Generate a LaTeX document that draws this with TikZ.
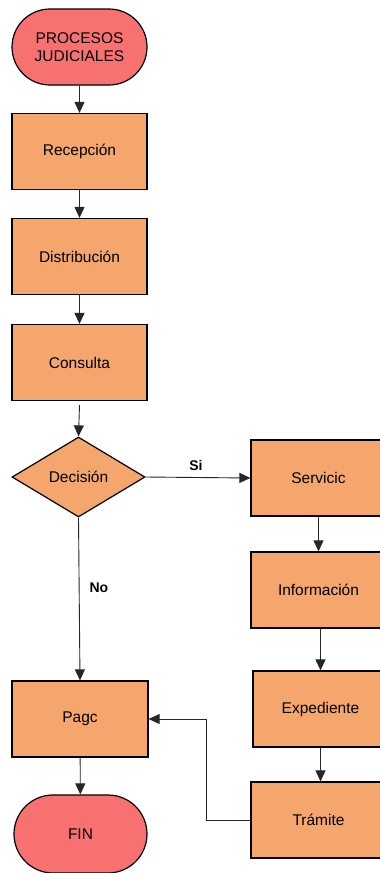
\documentclass[tikz,border=0pt]{standalone}
\usepackage{fontspec}
\setmainfont{Liberation Sans}
\usetikzlibrary{shapes.geometric,arrows.meta}
\definecolor{boxfill}{RGB}{244,166,108}
\definecolor{termfill}{RGB}{248,113,113}
\tikzset{
  procbox/.style={draw=black, line width=1.2pt, fill=boxfill, minimum width=135pt, minimum height=76pt, inner sep=0pt, font=\fontsize{15.5}{17.5}\selectfont},
  termbox/.style={draw=black, line width=1.2pt, fill=termfill, rounded corners=38pt, minimum width=135pt, minimum height=76pt, inner sep=0pt, align=center, font=\fontsize{15.5}{17.5}\selectfont},
  decbox/.style={draw=black, line width=1.2pt, fill=boxfill, diamond, aspect=1.66, minimum width=133pt, minimum height=80pt, inner sep=0pt, font=\fontsize{15.5}{17.5}\selectfont},
  conn/.style={draw=black!85, line width=0.9pt, -{Triangle[length=11pt,width=10pt]}},
  lbl/.style={font=\bfseries\fontsize{14}{16}\selectfont, inner sep=0pt}
}
\begin{document}
\begin{tikzpicture}[x=1pt,y=-1pt]
\clip (0,0) rectangle (380,873);
\fill[white] (0,0) rectangle (380,873);
\node[termbox] (inicio) at (79.5,47) {PROCESOS\\JUDICIALES};
\node[procbox] (recep) at (79.5,151.5) {Recepción};
\node[procbox] (dist) at (79.5,256.5) {Distribución};
\node[procbox] (cons) at (79.5,362.5) {Consulta};
\node[decbox] (dec) at (78.5,477) {Decisión};
\node[procbox] (serv) at (318.5,478) {Servicic};
\node[procbox] (info) at (318.5,590) {Información};
\node[procbox] (exped) at (320.5,709) {Expediente};
\node[procbox] (tram) at (318.5,820) {Trámite};
\node[procbox, minimum width=136pt] (pago) at (80,719) {Pagc};
\node[termbox, minimum width=133pt, minimum height=78pt, rounded corners=39pt] (fin) at (80.5,834) {FIN};
\coordinate (bend) at (206,820);
\draw[conn] (inicio) -- (recep);
\draw[conn] (recep) -- (dist);
\draw[conn] (dist) -- (cons);
\draw[conn] ([yshift=-4pt]cons.south) -- (dec.north);
\draw[conn] (dec.east) -- node[lbl, above=6pt, pos=0.48] (si) {Si} (serv.west);
\draw[conn] (dec.south) -- node[lbl, pos=0.43, right=10pt] (no) {No} (pago.north);
\draw[conn] (serv) -- (info);
\draw[conn] (info) -- (info.south -| exped.north) -- (exped.north);
\draw[conn] (exped.south) -- (exped.south |- tram.north);
\draw[conn] (tram.west) -- (bend) |- (pago.east);
\draw[conn] (pago) -- (fin);
\end{tikzpicture}
\end{document}
